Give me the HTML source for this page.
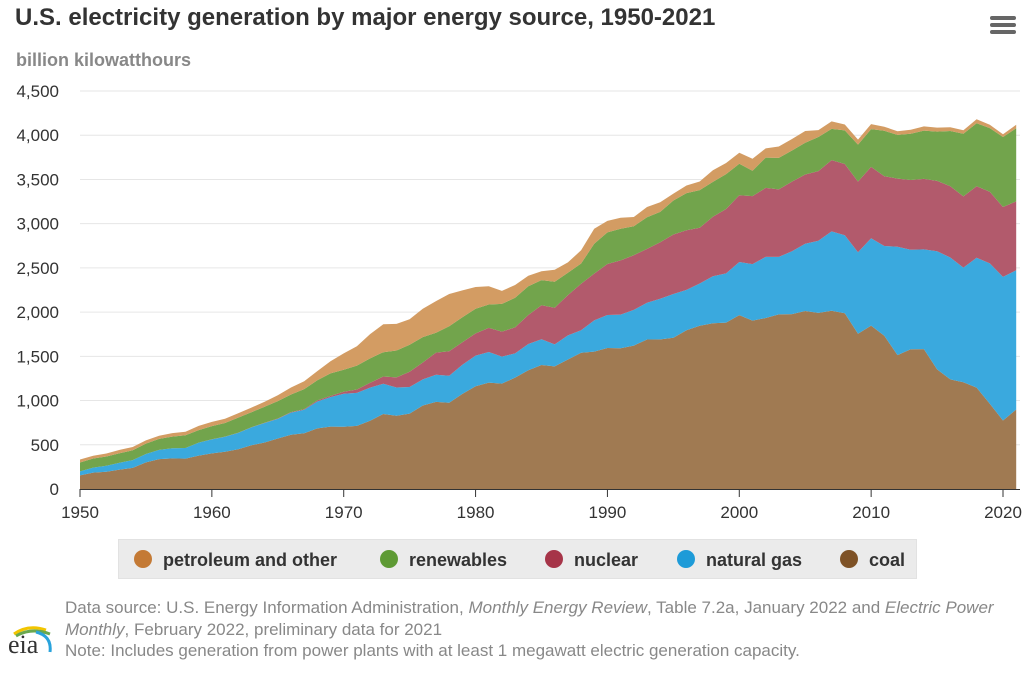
<!DOCTYPE html>
<html><head><meta charset="utf-8">
<style>
body{margin:0;background:#fff;font-family:"Liberation Sans",Arial,sans-serif;}
#wrap{position:relative;width:1027px;height:673px;overflow:hidden;}
.t{position:absolute;white-space:nowrap;}
</style></head>
<body>
<div id="wrap">
<div style="position:absolute;left:118px;top:539px;width:797px;height:38px;background:#ebebeb;border:1px solid #e2e2e2;"></div>
<div class="t" style="left:15px;top:4px;font-size:24px;font-weight:bold;color:#333;">U.S. electricity generation by major energy source, 1950-2021</div>
<div class="t" style="left:16px;top:50px;font-size:18px;font-weight:bold;color:#888;">billion kilowatthours</div>
<div style="position:absolute;left:990px;top:16px;width:26px;height:20px;">
<div style="height:4px;background:#666;margin-bottom:3px;border-radius:2px"></div><div style="height:4px;background:#666;margin-bottom:3px;border-radius:2px"></div><div style="height:4px;background:#666;border-radius:2px"></div></div>
<svg id="chart" width="1027" height="673" style="position:absolute;left:0;top:0"></svg>
<div class="t" style="left:65px;top:597px;font-size:17px;color:#888;line-height:21.5px;">Data source: U.S. Energy Information Administration, <i>Monthly Energy Review</i>, Table 7.2a, January 2022 and <i>Electric Power</i><br><i>Monthly</i>, February 2022, preliminary data for 2021<br>Note: Includes generation from power plants with at least 1 megawatt electric generation capacity.</div>
<div style="position:absolute;left:6px;top:622px;width:50px;height:40px;">
<svg width="50" height="40"><path d="M8 12 Q22 2 40 8" stroke="#f2c500" stroke-width="3" fill="none"/><path d="M10 14 Q25 5 44 12" stroke="#6aa84f" stroke-width="3" fill="none"/><path d="M30 10 Q46 14 44 30" stroke="#29a3dc" stroke-width="3" fill="none"/></svg>
<div class="t" style="left:2px;top:8px;font-family:'Liberation Serif',serif;font-size:26px;color:#333;">eia</div></div>
</div>
<script>
const years=[];for(let y=1950;y<=2021;y++)years.push(y);
const coal=[154,185,195,219,239,301,338,346,344,378,403,422,450,494,526,571,613,630,685,706,704,713,771,848,828,853,944,985,976,1075,1162,1203,1192,1259,1342,1402,1386,1464,1541,1554,1594,1591,1621,1690,1691,1709,1796,1845,1874,1881,1966,1904,1933,1974,1978,2013,1991,2016,1986,1756,1847,1733,1514,1581,1582,1352,1239,1206,1146,965,774,899];
const gas=[45,57,67,78,88,95,104,114,120,147,158,169,184,202,220,222,251,265,304,333,373,374,376,341,320,300,295,306,305,329,346,346,305,274,297,292,249,273,253,352,373,381,404,415,460,496,455,479,532,557,601,639,691,650,710,761,816,897,883,921,988,1014,1226,1124,1127,1335,1379,1297,1469,1586,1624,1575];
const nuclear=[0,0,0,0,0,0,0,0,0,0,1,2,2,3,3,4,6,8,13,14,22,38,54,83,114,173,191,251,276,255,251,273,283,294,328,384,414,455,527,529,577,613,619,610,640,673,675,629,673,728,754,769,780,764,788,782,787,806,806,799,807,790,769,789,797,797,806,805,807,809,790,778];
const renewables=[101,103,106,107,111,117,125,132,143,141,149,153,171,169,181,197,199,226,227,254,250,270,276,275,304,304,287,224,283,284,279,264,313,335,325,284,294,252,229,337,357,358,327,357,342,384,420,426,393,394,356,287,343,356,351,358,386,353,380,418,427,513,495,523,546,557,624,708,714,720,792,826];
const petroleum=[34,30,33,38,37,37,36,40,41,47,48,49,49,52,57,65,79,89,104,138,184,220,274,315,301,289,320,358,365,303,246,206,147,144,120,100,137,118,149,170,130,123,104,116,109,78,85,98,132,126,125,135,104,128,130,134,78,84,66,56,57,46,40,44,48,45,42,40,45,38,32,40];
const yTicks=[0,500,1000,1500,2000,2500,3000,3500,4000,4500];
const xTicks=[1950,1960,1970,1980,1990,2000,2010,2020];
const seriesNames=["coal","natural gas","nuclear","renewables","petroleum and other"];
const svg=document.getElementById('chart');const NS='http://www.w3.org/2000/svg';
const X0=80,X1=1003,Y0=489,Y1=91;
const xs=y=>X0+(y-1950)*(X1-X0)/70;
const ys=v=>Y0-v*(Y0-Y1)/4500;
function mk(t,a){const e=document.createElementNS(NS,t);for(const k in a)e.setAttribute(k,a[k]);svg.appendChild(e);return e;}
yTicks.forEach(v=>{
 if(v>0){const g=mk('line',{x1:X0,x2:1020,y1:ys(v),y2:ys(v),stroke:'#e6e6e6'});
 
 }
 const t=mk('text',{x:59,y:ys(v)+6,'text-anchor':'end','font-size':17,fill:'#333','font-family':'Liberation Sans,sans-serif'});
 t.textContent=v.toLocaleString('en-US');
 
 
});
const data=[coal,gas,nuclear,renewables,petroleum];
const fills=['#a07a52','#3aa9de','#b25a6c','#72a44c','#d39c63'];
let base=years.map(()=>0);
data.forEach((s,i)=>{
 const top=s.map((v,j)=>base[j]+v);
 let d='M'+years.map((y,j)=>xs(y).toFixed(1)+','+ys(top[j]).toFixed(1)).join('L');
 for(let j=years.length-1;j>=0;j--)d+='L'+xs(years[j]).toFixed(1)+','+ys(base[j]).toFixed(1);
 const p=mk('path',{d:d+'Z',fill:fills[i]});
 
 
 base=top;
});
const ax=mk('line',{x1:X0,x2:1020,y1:Y0+0.5,y2:Y0+0.5,stroke:'#333'});


xTicks.forEach(y=>{
 mk('line',{x1:xs(y),x2:xs(y),y1:Y0,y2:Y0+8,stroke:'#333'});
 const t=mk('text',{x:xs(y),y:518,'text-anchor':'middle','font-size':17,fill:'#333','font-family':'Liberation Sans,sans-serif'});
 t.textContent=y;
 
 
});
const legItems=[["petroleum and other",'#c47a35',143],["renewables",'#5e9a34',389],["nuclear",'#a63448',554],["natural gas",'#1e9bd8',686],["coal",'#7e5226',849]];
legItems.forEach(l=>{
 const c=mk('circle',{cx:l[2],cy:559,r:9,fill:l[1]});
 
 
 const t=mk('text',{x:l[2]+20,y:566,'font-size':18,'font-weight':'bold',fill:'#333','font-family':'Liberation Sans,sans-serif'});
 t.textContent=l[0];
 
 
});
</script>
</body></html>
